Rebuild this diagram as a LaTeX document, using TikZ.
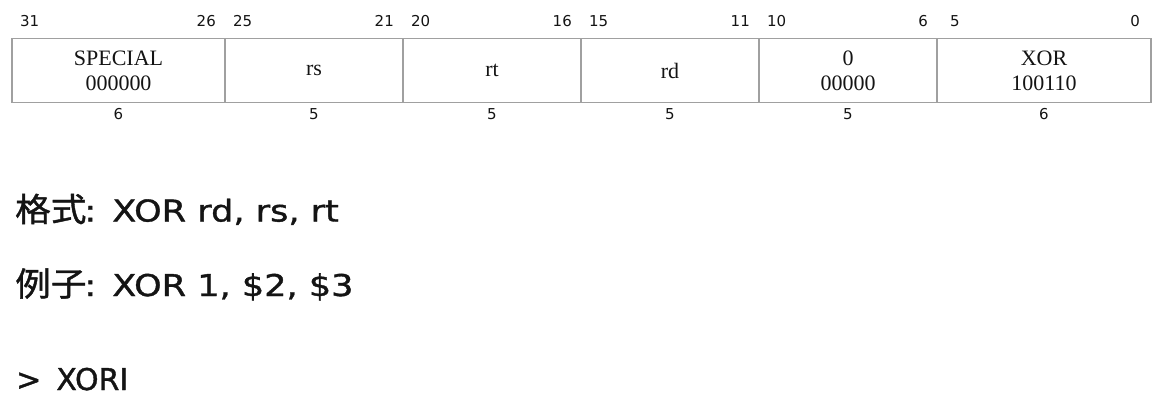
\documentclass[tikz,border=0pt]{standalone}
\usepackage{fontspec}
\setmainfont{DejaVu Sans}
\newfontfamily\cjk[FakeStretch=1.08,FakeBold=1.2]{Noto Sans CJK SC}
\newfontfamily\widesans[FakeStretch=1.17,FakeBold=1.2]{DejaVu Sans}
\newfontfamily\boldishsans[FakeBold=1.2]{DejaVu Sans}
\newfontfamily\seriffam{Liberation Serif}
\definecolor{boxgray}{RGB}{160,160,160}
\definecolor{txt}{RGB}{20,20,20}
\begin{document}
\begin{tikzpicture}[x=1pt,y=-1pt,
  field/.style={draw=boxgray,line width=1.3pt,minimum height=64pt,inner sep=0pt,
    text=txt,align=center,font=\seriffam\fontsize{22}{25.3}\selectfont},
  bitnum/.style={inner sep=0pt,text=txt,font=\fontsize{15}{18}\selectfont},
  bigtext/.style={inner sep=0pt,anchor=base west,text=txt,font=\widesans\fontsize{30}{36}\selectfont},
  lasttext/.style={inner sep=0pt,anchor=base west,text=txt,font=\boldishsans\fontsize{30}{36}\selectfont}]
\useasboundingbox (0,0) rectangle (1168,410);
\fill[white] (0,0) rectangle (1168,410);
% fields
\node[field,minimum width=213pt] (f1) at (118.5,70.5) {SPECIAL\\000000};
\node[field,minimum width=178pt] (f2) at (314,70.5) {rs};
\node[field,minimum width=178pt] (f3) at (492,70.5) {rt};
\node[field,minimum width=178pt] (f4) at (670,70.5) {rd};
\node[field,minimum width=178pt] (f5) at (848,70.5) {0\\00000};
\node[field,minimum width=214pt] (f6) at (1044,70.5) {XOR\\100110};
% bit numbers
\node[bitnum,anchor=base west] (b31) at (20,26) {31};
\node[bitnum,anchor=base east] (b26) at (216,26) {26};
\node[bitnum,anchor=base west] (b25) at (233,26) {25};
\node[bitnum,anchor=base east] (b21) at (394,26) {21};
\node[bitnum,anchor=base west] (b20) at (411,26) {20};
\node[bitnum,anchor=base east] (b16) at (572,26) {16};
\node[bitnum,anchor=base west] (b15) at (589,26) {15};
\node[bitnum,anchor=base east] (b11) at (750,26) {11};
\node[bitnum,anchor=base west] (b10) at (767,26) {10};
\node[bitnum,anchor=base east] (b6) at (928,26) {6};
\node[bitnum,anchor=base west] (b5) at (950,26) {5};
\node[bitnum,anchor=base east] (b0) at (1140,26) {0};
% widths
\node[bitnum,anchor=base] (w1) at (118.5,119) {6};
\node[bitnum,anchor=base] (w2) at (314,119) {5};
\node[bitnum,anchor=base] (w3) at (492,119) {5};
\node[bitnum,anchor=base] (w4) at (670,119) {5};
\node[bitnum,anchor=base] (w5) at (848,119) {5};
\node[bitnum,anchor=base] (w6) at (1044,119) {6};
% text
\node[bigtext] (fmt) at (15,221.5) {{\cjk\fontsize{33}{38}\selectfont 格式}\hspace{-2pt}:\hspace{16pt}XOR rd, rs, rt};
\node[bigtext] (ex) at (15,296) {{\cjk\fontsize{33}{38}\selectfont 例子}\hspace{-2pt}:\hspace{16pt}XOR 1, \$2, \$3};
\node[lasttext] (nx) at (16,390) {>\hspace{15pt}XORI};
\end{tikzpicture}
\end{document}
